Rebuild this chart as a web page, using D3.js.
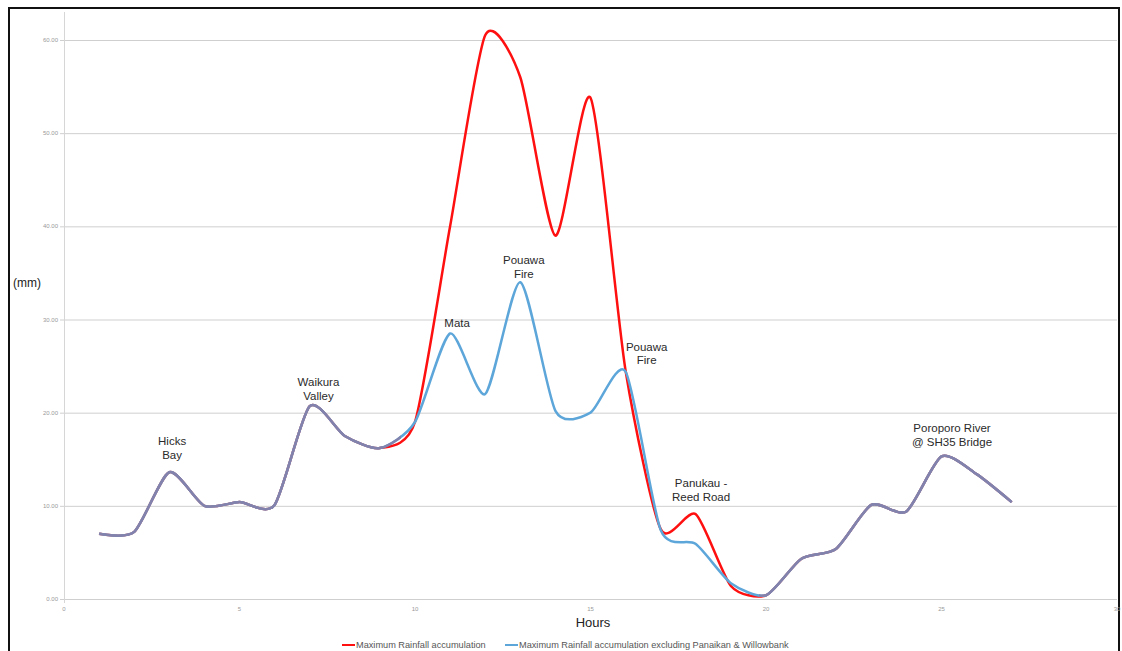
<!DOCTYPE html>
<html lang="en">

<head>
  <meta charset="UTF-8">
  <script src="https://cdn.jsdelivr.net/npm/d3@7"></script>
  <title>Rainfall accumulation</title>
  <style>
    body {
      margin: 0;
      background: #fff;
    }

    text {
      font-family: 'Liberation Sans', Arial, sans-serif;
    }
  </style>
</head>

<body>
  <svg id="chart" width="1122" height="651"></svg>
  <script>
    // hourly values
    const hours = [1, 2, 3, 4, 5, 6, 7, 8, 9, 10, 11, 12, 13, 14, 15, 16, 17, 18, 19, 20, 21, 22, 23, 24, 25, 26, 27];
    const maxRain = [7.0, 7.2, 13.6, 10.0, 10.4, 10.1, 20.7, 17.5, 16.2, 19.0, 40.0, 60.5, 56.0, 39.0, 53.8, 24.5,
      7.5, 9.1, 1.4, 0.4, 4.3, 5.4, 10.1, 9.4, 15.3, 13.4, 10.4];
    const maxRainExcl = [7.0, 7.2, 13.6, 10.0, 10.4, 10.1, 20.7, 17.5, 16.2, 19.0, 28.5, 22.0, 34.0, 20.2, 20.0, 24.4,
      7.4, 5.9, 1.7, 0.4, 4.3, 5.4, 10.1, 9.4, 15.3, 13.4, 10.4];
    const yTicks = [0, 10, 20, 30, 40, 50, 60];
    const xTicks = [0, 5, 10, 15, 20, 25, 30];
    const labels = [
      { h: 3.08, v: 13.6, lines: ["Hicks", "Bay"], dy: -27 },
      { h: 7.25, v: 20.7, lines: ["Waikura", "Valley"], dy: -20 },
      { h: 11.2, v: 28.5, lines: ["Mata"], dy: -6 },
      { h: 13.1, v: 34.0, lines: ["Pouawa", "Fire"], dy: -18 },
      { h: 16.6, v: 24.4, lines: ["Pouawa", "Fire"], dy: -21 },
      { h: 18.15, v: 9.1, lines: ["Panukau -", "Reed Road"], dy: -27 },
      { h: 25.3, v: 15.3, lines: ["Poroporo River", "@ SH35 Bridge"], dy: -24 }
    ];
    const legendItems = [
      { name: "Maximum Rainfall accumulation", color: "#ff1010" },
      { name: "Maximum Rainfall accumulation excluding Panaikan & Willowbank", color: "#5da6da" }
    ];

    const svg = d3.select("#chart");
    const x = d3.scaleLinear().domain([0, 30]).range([64, 1117]);
    const y = d3.scaleLinear().domain([0, 60]).range([599, 40]);

    // frame
    svg.append("rect").attr("x", 9).attr("y", 8).attr("width", 1110).attr("height", 660)
      .attr("fill", "none").attr("stroke", "#111").attr("stroke-width", 2);

    // grid
    svg.selectAll("line.grid").data(yTicks).enter().append("line").attr("class", "grid")
      .attr("x1", x(0) - 4).attr("x2", x(30))
      .attr("y1", d => y(d) + 0.5).attr("y2", d => y(d) + 0.5)
      .attr("stroke", "#cfcfcf").attr("stroke-width", 1);
    svg.append("line").attr("x1", x(0) + 0.5).attr("x2", x(0) + 0.5)
      .attr("y1", 12).attr("y2", y(0) + 4)
      .attr("stroke", "#d6d6d6");

    svg.selectAll("text.ytick").data(yTicks).enter().append("text").attr("class", "ytick")
      .attr("x", x(0) - 6).attr("y", d => y(d) + 2)
      .attr("text-anchor", "end").attr("font-size", 6).attr("fill", "#999")
      .text(d => d3.format(".2f")(d));
    svg.selectAll("text.xtick").data(xTicks).enter().append("text").attr("class", "xtick")
      .attr("x", d => x(d)).attr("y", y(0) + 12)
      .attr("text-anchor", "middle").attr("font-size", 6).attr("fill", "#999")
      .text(d => d);

    svg.append("text").attr("x", 13).attr("y", 287).attr("font-size", 12).attr("fill", "#222").text("(mm)");
    svg.append("text").attr("x", 593).attr("y", 627).attr("text-anchor", "middle")
      .attr("font-size", 13).attr("fill", "#222").text("Hours");

    // lines
    const line = d3.line().x((d, i) => x(hours[i])).y(d => y(d)).curve(d3.curveCardinal.tension(0.3));
    svg.append("path").attr("d", line(maxRain)).attr("fill", "none")
      .attr("stroke", legendItems[0].color).attr("stroke-width", 2.5);
    svg.append("path").attr("d", line(maxRainExcl)).attr("fill", "none")
      .attr("stroke", legendItems[1].color).attr("stroke-width", 2.5);

    // where both series agree the lines look grey-purple
    const runs = [];
    hours.forEach((h, i) => {
      if (maxRain[i] !== maxRainExcl[i]) return;
      const last = runs[runs.length - 1];
      if (last && last.end === i - 1) last.end = i; else runs.push({ start: i, end: i });
    });
    const clip = svg.append("clipPath").attr("id", "same");
    runs.forEach(r => {
      const a = r.start === 0 ? hours[0] - 1 : hours[r.start] - 0.2;
      const b = r.end === hours.length - 1 ? hours[r.end] + 1 : hours[r.end] - 0.4;
      clip.append("rect").attr("x", x(a)).attr("width", x(b) - x(a)).attr("y", 0).attr("height", 651);
    });
    svg.append("path").attr("d", line(maxRainExcl)).attr("fill", "none")
      .attr("clip-path", "url(#same)")
      .attr("stroke", "#8282ac").attr("stroke-width", 2.5);

    // station labels
    labels.forEach(l => {
      const t = svg.append("text").attr("text-anchor", "middle").attr("font-size", 11.5).attr("fill", "#2a2a2a");
      l.lines.forEach((s, k) => {
        t.append("tspan").attr("x", x(l.h)).attr("y", y(l.v) + l.dy + k * 13.5).text(s);
      });
    });

    // legend
    const lx = [342, 505];
    legendItems.forEach((d, i) => {
      svg.append("line").attr("x1", lx[i]).attr("x2", lx[i] + 13).attr("y1", 645).attr("y2", 645)
        .attr("stroke", d.color).attr("stroke-width", 2);
      svg.append("text").attr("x", lx[i] + 14).attr("y", 648).attr("font-size", 9.2).attr("fill", "#555").text(d.name);
    });
  </script>
</body>

</html>
